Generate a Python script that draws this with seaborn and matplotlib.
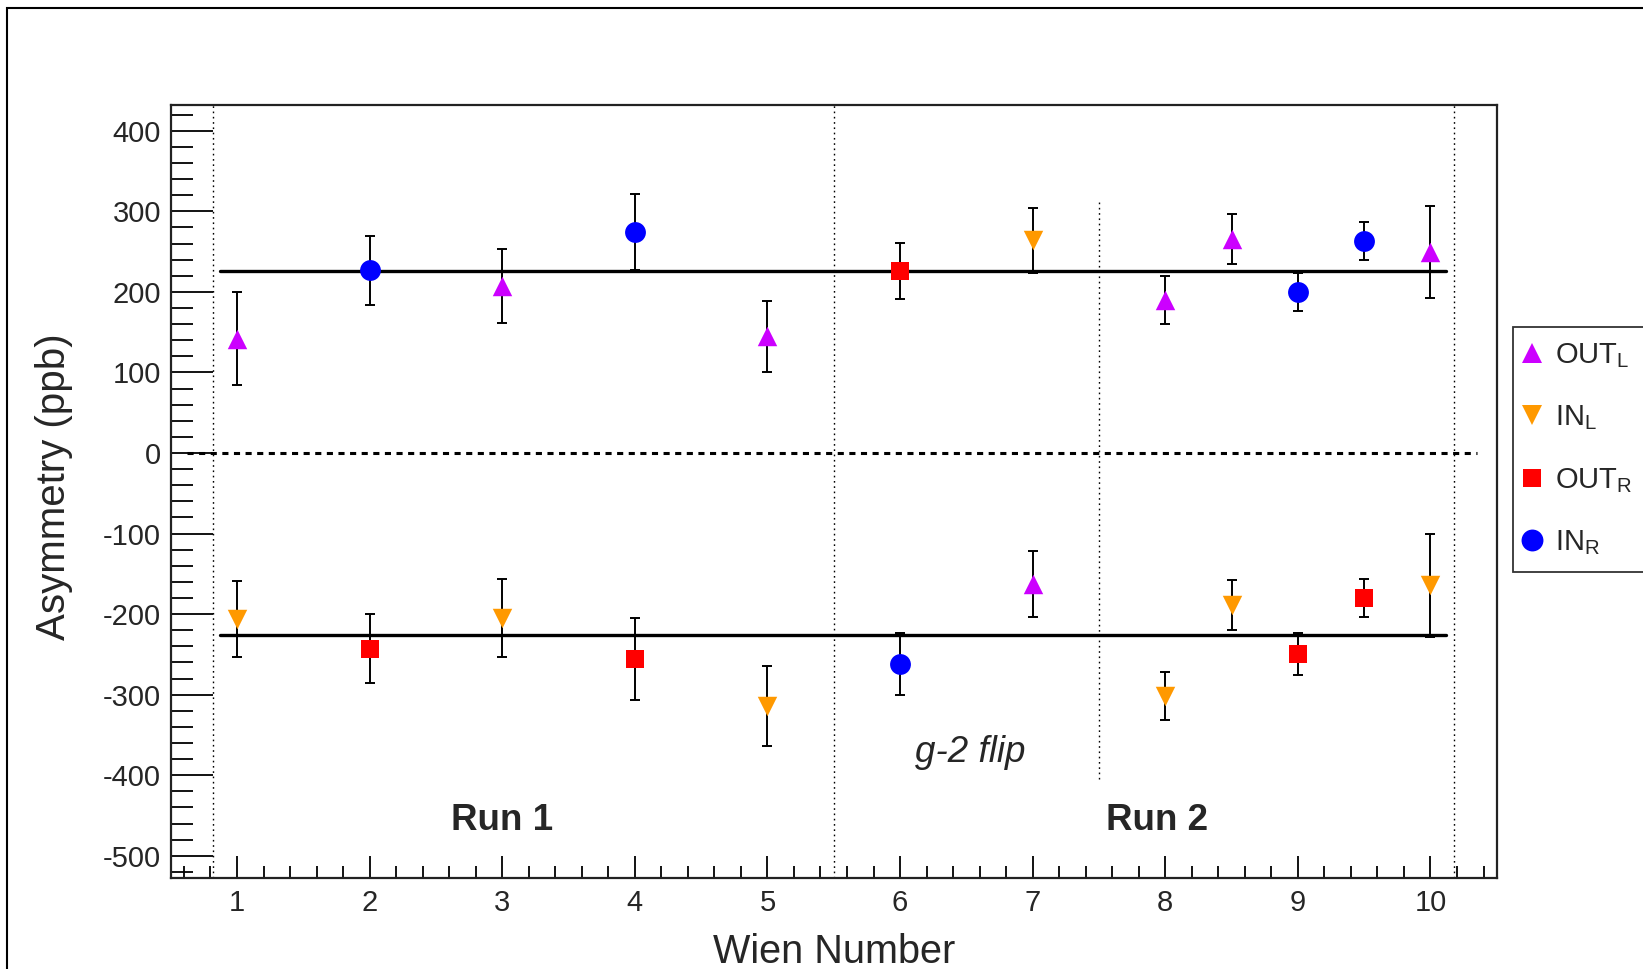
import numpy as np
import pandas as pd
import matplotlib
matplotlib.use("Agg")
import matplotlib.pyplot as plt
import seaborn as sns
from matplotlib.ticker import MultipleLocator, FixedLocator
from matplotlib.lines import Line2D
from matplotlib.patches import Rectangle

# ---------------- data ----------------
series_names = ["OUT_L", "IN_L", "OUT_R", "IN_R"]
legend_labels = [r"OUT$_{\mathrm{L}}$", r"IN$_{\mathrm{L}}$", r"OUT$_{\mathrm{R}}$", r"IN$_{\mathrm{R}}$"]

outL_x = [1, 3, 5, 7, 8, 8.5, 10]
outL_y = [142, 207, 145, -163, 190, 266, 250]
outL_e = [58, 46, 44, 41, 30, 31, 57]

inL_x = [1, 3, 5, 7, 8, 8.5, 10]
inL_y = [-206, -205, -314, 264, -302, -189, -164]
inL_e = [47, 48, 50, 40, 30, 31, 64]

outR_x = [2, 4, 6, 9, 9.5]
outR_y = [-243, -256, 226, -249, -180]
outR_e = [43, 51, 35, 26, 24]

inR_x = [2, 4, 6, 9, 9.5]
inR_y = [227, 274, -262, 200, 263]
inR_e = [43, 47, 38, 24, 24]

fit_value = 226
fit_range = [0.87, 10.12]
zero_range = [0.62, 10.35]
run_bounds = [0.82, 5.5, 10.18]
flip_x = 7.5
flip_span = [-405, 315]
x_tick_values = [1, 2, 3, 4, 5, 6, 7, 8, 9, 10]
x_tick_labels = ["1", "2", "3", "4", "5", "6", "7", "8", "9", "10"]
y_tick_values = [-500, -400, -300, -200, -100, 0, 100, 200, 300, 400]

frames = []
for name, xs, ys, es in [("OUT_L", outL_x, outL_y, outL_e), ("IN_L", inL_x, inL_y, inL_e),
                         ("OUT_R", outR_x, outR_y, outR_e), ("IN_R", inR_x, inR_y, inR_e)]:
    frames.append(pd.DataFrame({"wien": xs, "asym": ys, "err": es, "series": name}))
df = pd.concat(frames, ignore_index=True)

# ---------------- style ----------------
sns.set_theme(style="ticks")
plt.rcParams["font.family"] = ["Liberation Sans", "DejaVu Sans"]
plt.rcParams["mathtext.fontset"] = "custom"
plt.rcParams["mathtext.rm"] = "Liberation Sans"
plt.rcParams["mathtext.it"] = "Liberation Sans:italic"
plt.rcParams["mathtext.bf"] = "Liberation Sans:bold"
plt.rcParams["axes.unicode_minus"] = False

colors = {"OUT_L": "#CC00FF", "IN_L": "#FF9900", "OUT_R": "#FF0000", "IN_R": "#0000FF"}
markers = {"OUT_L": "^", "IN_L": "v", "OUT_R": "s", "IN_R": "o"}
msizes = {"OUT_L": 14, "IN_L": 14, "OUT_R": 13, "IN_R": 15}

fig = plt.figure(figsize=(16.43, 9.69), dpi=100)
fig.patch.set_facecolor("white")
ax = fig.add_axes([0.1039, 0.0936, 0.911 - 0.1039, 0.8916 - 0.0936])

# guide lines
for xb in run_bounds:
    ax.axvline(xb, color="black", lw=1.0, linestyle=(0, (1.2, 2.6)), zorder=1)
ax.plot([flip_x, flip_x], flip_span, color="black", lw=1.0, linestyle=(0, (1.2, 2.6)), zorder=1)
ax.plot(zero_range, [0, 0], color="black", lw=2.2, linestyle=(0, (2.0, 1.8)), zorder=1)
ax.plot(fit_range, [fit_value, fit_value], color="black", lw=2.4, zorder=2)
ax.plot(fit_range, [-fit_value, -fit_value], color="black", lw=2.4, zorder=2)

# error bars + markers
for name in series_names:
    sub = df[df["series"] == name]
    ax.errorbar(sub["wien"], sub["asym"], yerr=sub["err"], fmt="none", ecolor="black",
                elinewidth=1.4, capsize=3.8, capthick=1.4, zorder=3)
    sns.scatterplot(data=sub, x="wien", y="asym", marker=markers[name], color=colors[name],
                    s=msizes[name] ** 2, linewidth=0, ax=ax, zorder=4, legend=False)

# texts
ax.text(3.0, -468, "Run 1", fontsize=26.5, fontweight="bold", ha="center", va="baseline")
ax.text(7.94, -468, "Run 2", fontsize=26.5, fontweight="bold", ha="center", va="baseline")
ax.text(6.53, -383, "g-2 flip", fontsize=26.5, fontstyle="italic", ha="center", va="baseline")

# axes
ax.set_xlim(0.5, 10.5)
ax.set_ylim(-528, 432)
ax.xaxis.set_major_locator(FixedLocator(x_tick_values))
ax.set_xticklabels(x_tick_labels)
ax.xaxis.set_minor_locator(MultipleLocator(0.2))
ax.yaxis.set_major_locator(FixedLocator(y_tick_values))
ax.yaxis.set_minor_locator(MultipleLocator(20))
ax.tick_params(axis="both", which="both", direction="in", top=False, right=False,
               labelsize=21, color="black", width=1.3)
ax.tick_params(axis="x", which="major", length=16, pad=8)
ax.tick_params(axis="x", which="minor", length=8.5)
ax.tick_params(axis="y", which="major", length=30.5, pad=7)
ax.tick_params(axis="y", which="minor", length=15.5)
for sp in ax.spines.values():
    sp.set_linewidth(1.6)
    sp.set_color("#222222")
    sp.set_visible(True)

ax.set_xlabel("Wien Number", fontsize=28.5)
ax.set_ylabel("Asymmetry (ppb)", fontsize=29)
ax.xaxis.set_label_coords(0.5, -0.071)
ax.yaxis.set_label_coords(-0.0737, 0.506)

# legend
handles = [Line2D([], [], linestyle="none", marker=markers[n], color=colors[n],
                  markersize=msizes[n] * 1.05, markeredgewidth=0) for n in series_names]
leg = fig.legend(handles, legend_labels, loc="upper left",
                 bbox_to_anchor=(1512.7 / 1643, 1 - 326.7 / 969), bbox_transform=fig.transFigure,
                 fontsize=21, frameon=True, fancybox=False, borderpad=0.5, handlelength=0.35,
                 handletextpad=0.6, labelspacing=1.15, borderaxespad=0)
leg.get_frame().set_edgecolor("black")
leg.get_frame().set_linewidth(1.3)

# outer canvas border
fig.add_artist(Rectangle((7 / 1643, -0.2), 2.0, 1.2 - 8 / 969, transform=fig.transFigure,
                         fill=False, edgecolor="black", lw=1.5))

fig.savefig("out.png", dpi=100, facecolor="white")
